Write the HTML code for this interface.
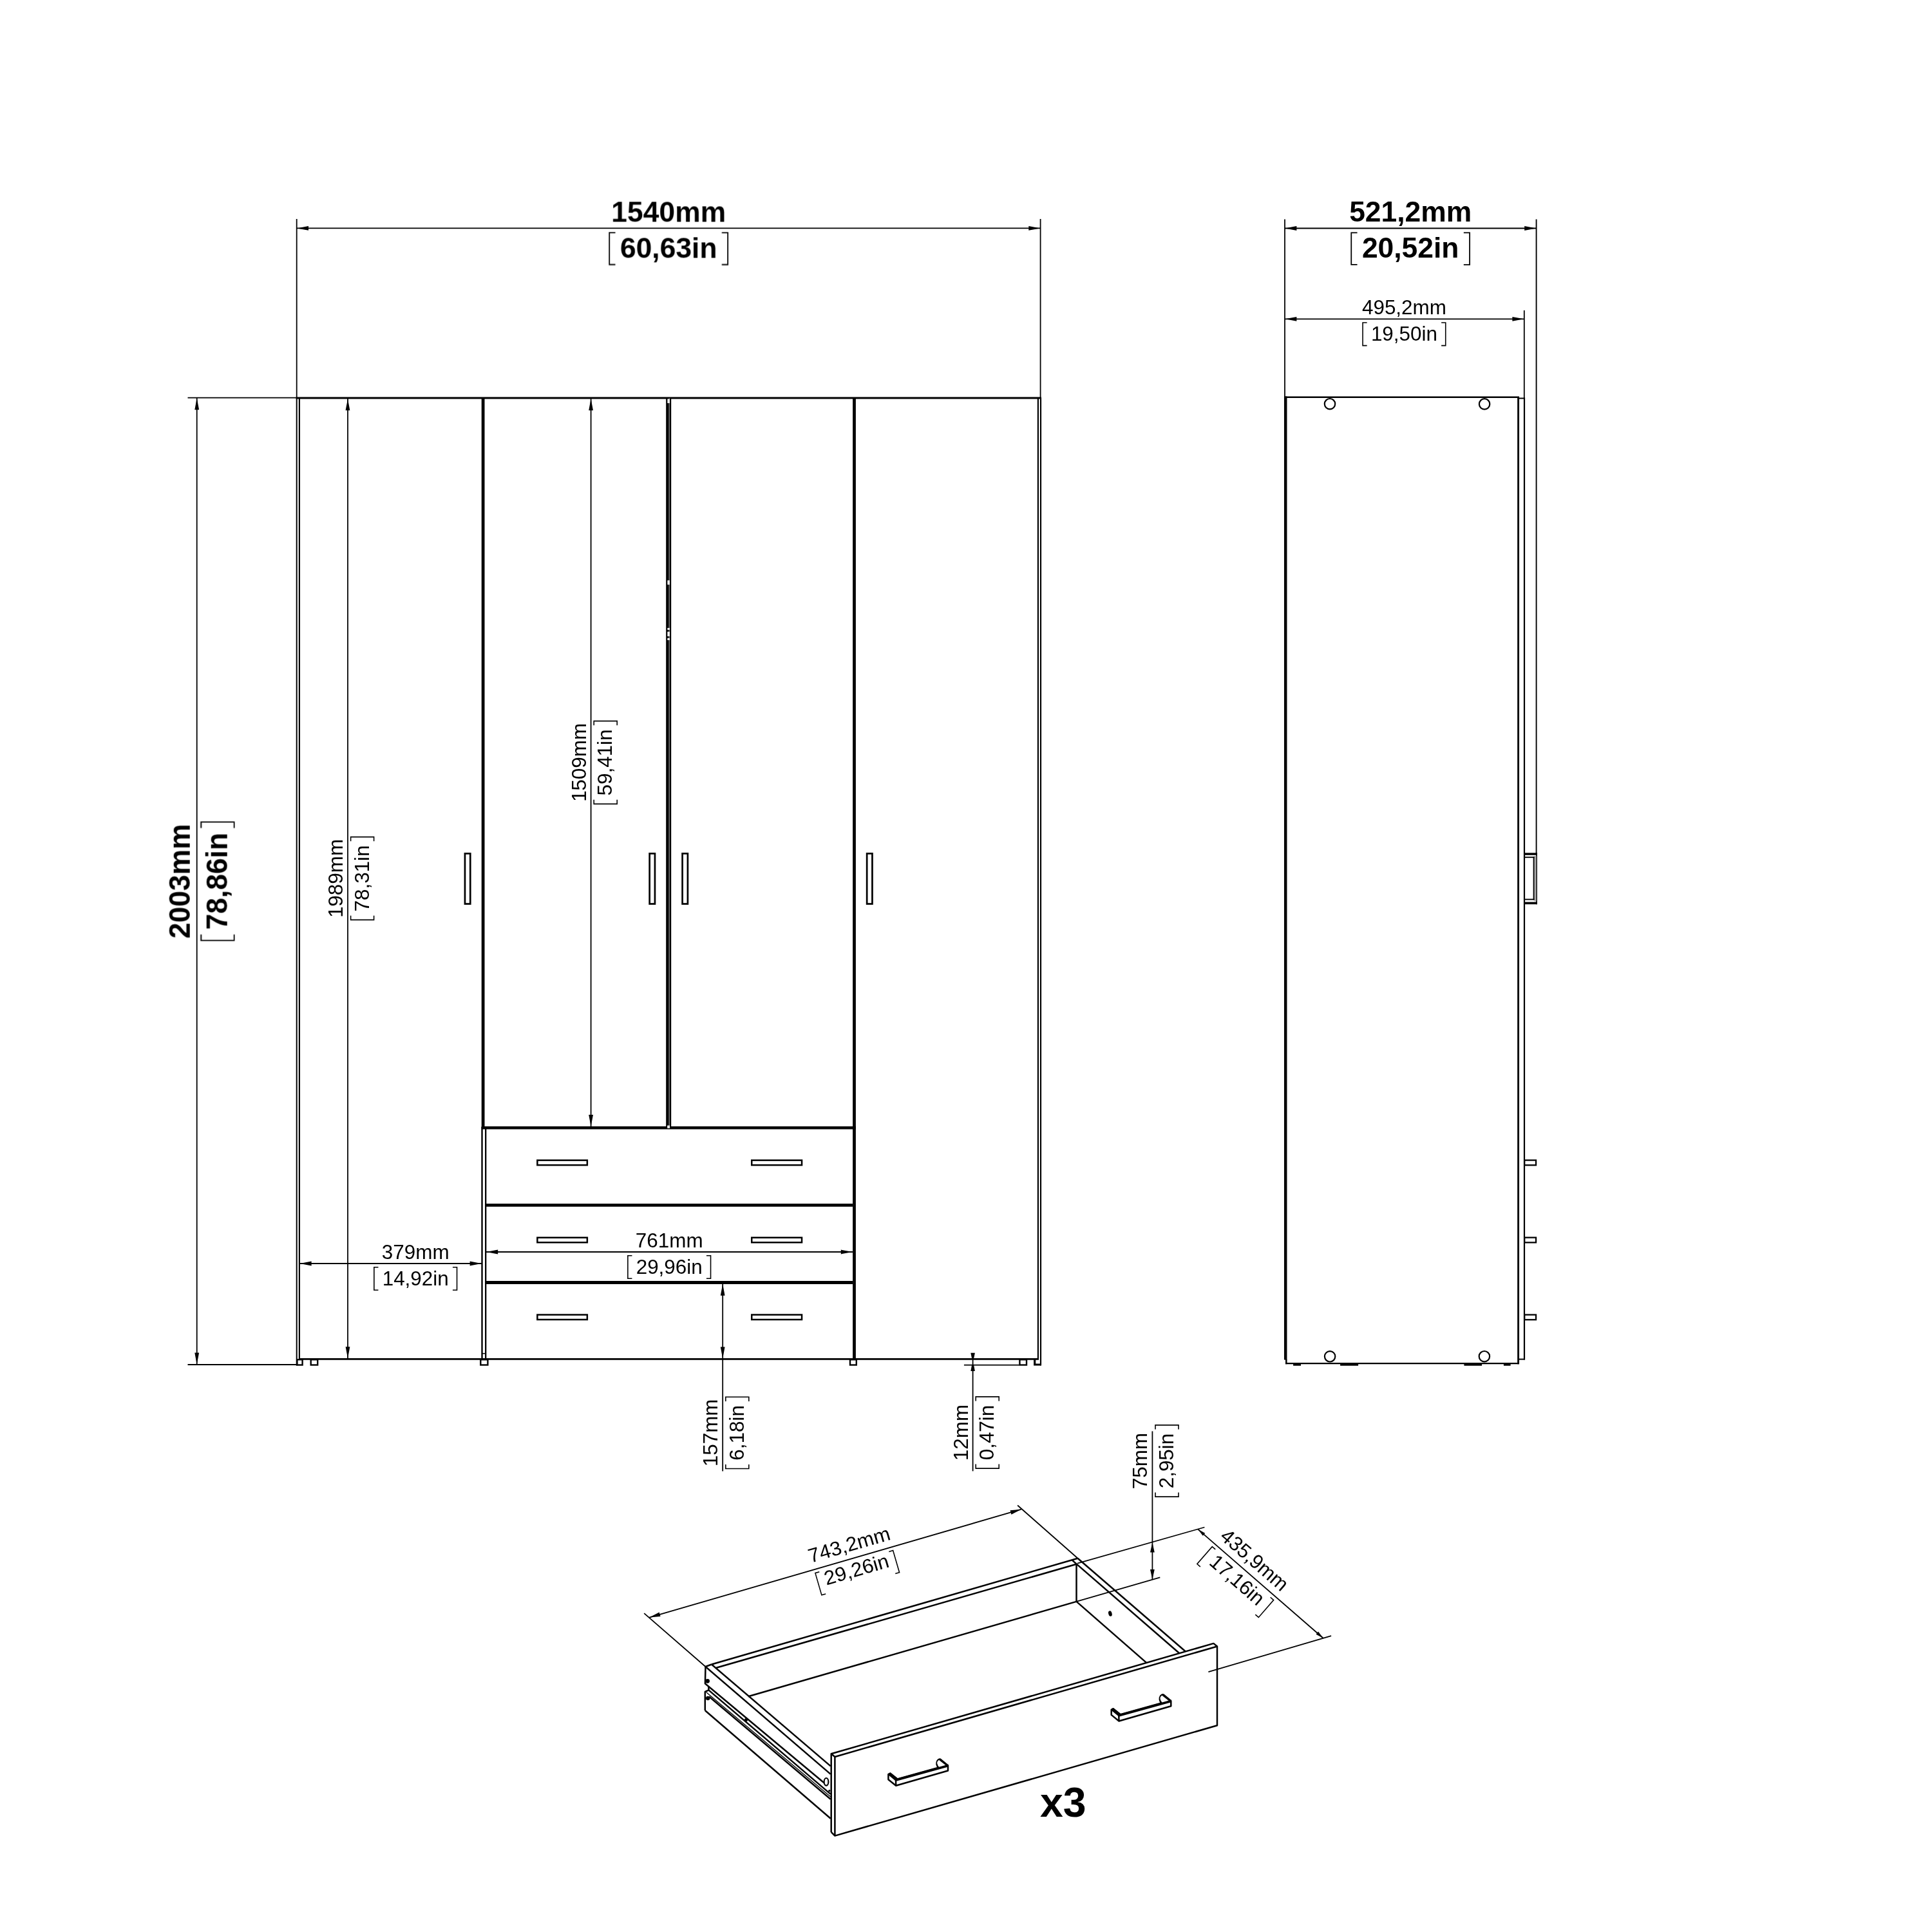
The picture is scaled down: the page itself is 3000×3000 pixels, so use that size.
<!DOCTYPE html>
<html><head><meta charset="utf-8"><title>Wardrobe dimensions</title>
<style>html,body{margin:0;padding:0;background:#fff}svg{display:block}text{font-family:"Liberation Sans",sans-serif;fill:#000}</style>
</head><body>
<svg width="3000" height="3000" viewBox="0 0 3000 3000">
<rect width="3000" height="3000" fill="#fff"/>
<g opacity="0.999">
<line x1="460.7" y1="340" x2="460.7" y2="618" stroke="#000" stroke-width="1.8" stroke-linecap="butt"/>
<line x1="1615.6" y1="340" x2="1615.6" y2="618" stroke="#000" stroke-width="1.8" stroke-linecap="butt"/>
<line x1="460.7" y1="354.4" x2="1615.6" y2="354.4" stroke="#000" stroke-width="1.9" stroke-linecap="butt"/>
<polygon points="461,354.4 479,351 479,357.8" fill="#000"/>
<polygon points="1615.3,354.4 1597.3,357.8 1597.3,351" fill="#000"/>
<g transform="translate(1038.2,354.4) rotate(0.02)">
<text transform="translate(0,-10.3) scale(1.019,1)" font-size="43.6" font-weight="bold" text-anchor="middle">1540mm</text>
<text transform="translate(0,45.5) scale(1.019,1)" font-size="43.6" font-weight="bold" text-anchor="middle">60,63in</text>
<path d="M-82.63,6.9 L-91.93,6.9 L-91.93,56.5 L-82.63,56.5" fill="none" stroke="#000" stroke-width="1.8"/>
<path d="M82.63,6.9 L91.93,6.9 L91.93,56.5 L82.63,56.5" fill="none" stroke="#000" stroke-width="1.8"/>
</g>
<line x1="291.5" y1="617.7" x2="461" y2="617.7" stroke="#000" stroke-width="1.8" stroke-linecap="butt"/>
<line x1="291.5" y1="2119" x2="461" y2="2119" stroke="#000" stroke-width="1.8" stroke-linecap="butt"/>
<line x1="305.7" y1="618" x2="305.7" y2="2119" stroke="#000" stroke-width="1.8" stroke-linecap="butt"/>
<polygon points="305.7,618.3 309.1,636.3 302.3,636.3" fill="#000"/>
<polygon points="305.7,2118.6 302.3,2100.6 309.1,2100.6" fill="#000"/>
<g transform="translate(305.7,1368.4) rotate(-90)">
<text transform="translate(0,-10.6) scale(0.981,1)" font-size="45.3" font-weight="bold" text-anchor="middle">2003mm</text>
<text transform="translate(0,46.6) scale(0.981,1)" font-size="45.3" font-weight="bold" text-anchor="middle">78,86in</text>
<path d="M-82.65,6.5 L-91.95,6.5 L-91.95,57.8 L-82.65,57.8" fill="none" stroke="#000" stroke-width="1.8"/>
<path d="M82.65,6.5 L91.95,6.5 L91.95,57.8 L82.65,57.8" fill="none" stroke="#000" stroke-width="1.8"/>
</g>
<line x1="459.7" y1="618" x2="1617" y2="618" stroke="#000" stroke-width="2.9" stroke-linecap="butt"/>
<line x1="460.7" y1="617" x2="460.7" y2="2120.5" stroke="#000" stroke-width="2" stroke-linecap="butt"/>
<line x1="464.9" y1="618" x2="464.9" y2="2110.5" stroke="#000" stroke-width="2.2" stroke-linecap="butt"/>
<line x1="1611.9" y1="618" x2="1611.9" y2="2110.5" stroke="#000" stroke-width="2.2" stroke-linecap="butt"/>
<line x1="1616" y1="618" x2="1616" y2="2120.6" stroke="#000" stroke-width="2.2" stroke-linecap="butt"/>
<line x1="464" y1="2110.4" x2="1613" y2="2110.4" stroke="#000" stroke-width="2.6" stroke-linecap="butt"/>
<line x1="750.1" y1="618" x2="750.1" y2="1751" stroke="#000" stroke-width="4.8" stroke-linecap="butt"/>
<line x1="748.5" y1="1750" x2="748.5" y2="2110" stroke="#000" stroke-width="2.4" stroke-linecap="butt"/>
<line x1="754.2" y1="1750" x2="754.2" y2="2110" stroke="#000" stroke-width="2.3" stroke-linecap="butt"/>
<line x1="749" y1="2101.7" x2="754" y2="2101.7" stroke="#000" stroke-width="1.5" stroke-linecap="butt"/>
<rect x="1034.2" y="618" width="4.6" height="1133" fill="#000"/>
<rect x="1038.8" y="618" width="1" height="1133" fill="#777"/>
<rect x="1039.8" y="618" width="2.4" height="1133" fill="#000"/>
<rect x="1036.4" y="619.5" width="3.5" height="6.5" fill="#fff"/>
<rect x="1036.4" y="901.2" width="3.5" height="6.6" fill="#fff"/>
<rect x="1036.4" y="975.1" width="3.5" height="2.9" fill="#fff"/>
<rect x="1036.4" y="980.9" width="3.5" height="7.1" fill="#fff"/>
<rect x="1036.4" y="990.8" width="3.5" height="3.2" fill="#fff"/>
<rect x="1036.4" y="1747.8" width="3.5" height="4.1" fill="#fff"/>
<line x1="1326.5" y1="618" x2="1326.5" y2="2110.5" stroke="#000" stroke-width="4.8" stroke-linecap="butt"/>
<line x1="747.7" y1="1751.2" x2="1328.9" y2="1751.2" stroke="#000" stroke-width="4.5" stroke-linecap="butt"/>
<line x1="753.2" y1="1871.4" x2="1324.2" y2="1871.4" stroke="#000" stroke-width="4.8" stroke-linecap="butt"/>
<line x1="753.2" y1="1991.5" x2="1324.2" y2="1991.5" stroke="#000" stroke-width="4.8" stroke-linecap="butt"/>
<rect x="1036.2" y="1747.8" width="3.8" height="4.1" fill="#fff"/>
<rect x="721.95" y="1325.35" width="8.3" height="78.2" fill="none" stroke="#000" stroke-width="2.7"/>
<rect x="1008.65" y="1325.35" width="8.3" height="78.2" fill="none" stroke="#000" stroke-width="2.7"/>
<rect x="1059.6" y="1325.35" width="8.3" height="78.2" fill="none" stroke="#000" stroke-width="2.7"/>
<rect x="1346.15" y="1325.35" width="8.3" height="78.2" fill="none" stroke="#000" stroke-width="2.7"/>
<rect x="834.35" y="1801.65" width="77.5" height="7.5" fill="none" stroke="#000" stroke-width="2.5"/>
<rect x="1167.25" y="1801.65" width="77.8" height="7.5" fill="none" stroke="#000" stroke-width="2.5"/>
<rect x="834.35" y="1921.75" width="77.5" height="7.5" fill="none" stroke="#000" stroke-width="2.5"/>
<rect x="1167.25" y="1921.75" width="77.8" height="7.5" fill="none" stroke="#000" stroke-width="2.5"/>
<rect x="834.35" y="2041.55" width="77.5" height="7.5" fill="none" stroke="#000" stroke-width="2.5"/>
<rect x="1167.25" y="2041.55" width="77.8" height="7.5" fill="none" stroke="#000" stroke-width="2.5"/>
<rect x="461.4" y="2111.2" width="8.2" height="8.3" fill="none" stroke="#000" stroke-width="2.4"/>
<rect x="482.7" y="2111.2" width="10.5" height="8.3" fill="none" stroke="#000" stroke-width="2.4"/>
<rect x="746.3" y="2111.2" width="11.1" height="8.3" fill="none" stroke="#000" stroke-width="2.4"/>
<rect x="1320" y="2111.2" width="9.8" height="8.3" fill="none" stroke="#000" stroke-width="2.4"/>
<rect x="1583.4" y="2111.2" width="10.6" height="8.3" fill="none" stroke="#000" stroke-width="2.4"/>
<path d="M1606.7,2110 L1606.7,2119 L1616,2119" fill="none" stroke="#000" stroke-width="3.2" stroke-linejoin="miter"/>
<line x1="540" y1="619" x2="540" y2="2110" stroke="#000" stroke-width="1.8" stroke-linecap="butt"/>
<polygon points="540,619.3 543.4,637.3 536.6,637.3" fill="#000"/>
<polygon points="540,2109.2 536.6,2091.2 543.4,2091.2" fill="#000"/>
<g transform="translate(540,1364) rotate(-90)">
<text transform="translate(0,-8) scale(0.985,1)" font-size="31.9" font-weight="normal" text-anchor="middle">1989mm</text>
<text transform="translate(0,32.8) scale(0.985,1)" font-size="31.9" font-weight="normal" text-anchor="middle">78,31in</text>
<path d="M-57.74,4.6 L-64.34,4.6 L-64.34,40.6 L-57.74,40.6" fill="none" stroke="#000" stroke-width="1.6"/>
<path d="M57.74,4.6 L64.34,4.6 L64.34,40.6 L57.74,40.6" fill="none" stroke="#000" stroke-width="1.6"/>
</g>
<line x1="917.6" y1="619" x2="917.6" y2="1749" stroke="#000" stroke-width="1.8" stroke-linecap="butt"/>
<polygon points="917.6,619.3 921,637.3 914.2,637.3" fill="#000"/>
<polygon points="917.6,1748.9 914.2,1730.9 921,1730.9" fill="#000"/>
<g transform="translate(917.6,1184) rotate(-90)">
<text transform="translate(0,-8) scale(0.985,1)" font-size="31.9" font-weight="normal" text-anchor="middle">1509mm</text>
<text transform="translate(0,32.8) scale(0.985,1)" font-size="31.9" font-weight="normal" text-anchor="middle">59,41in</text>
<path d="M-57.74,4.6 L-64.34,4.6 L-64.34,40.6 L-57.74,40.6" fill="none" stroke="#000" stroke-width="1.6"/>
<path d="M57.74,4.6 L64.34,4.6 L64.34,40.6 L57.74,40.6" fill="none" stroke="#000" stroke-width="1.6"/>
</g>
<line x1="465" y1="1962" x2="748" y2="1962" stroke="#000" stroke-width="1.8" stroke-linecap="butt"/>
<polygon points="465.6,1962 483.6,1958.6 483.6,1965.4" fill="#000"/>
<polygon points="747.6,1962 729.6,1965.4 729.6,1958.6" fill="#000"/>
<g transform="translate(645.2,1962) rotate(0.02)">
<text transform="translate(0,-7.2) scale(1.0235,1)" font-size="30.7" font-weight="normal" text-anchor="middle">379mm</text>
<text transform="translate(0,33.8) scale(1.0235,1)" font-size="30.7" font-weight="normal" text-anchor="middle">14,92in</text>
<path d="M-57.74,5.7 L-64.34,5.7 L-64.34,41.3 L-57.74,41.3" fill="none" stroke="#000" stroke-width="1.6"/>
<path d="M57.74,5.7 L64.34,5.7 L64.34,41.3 L57.74,41.3" fill="none" stroke="#000" stroke-width="1.6"/>
</g>
<line x1="755" y1="1944" x2="1324" y2="1944" stroke="#000" stroke-width="1.8" stroke-linecap="butt"/>
<polygon points="755.2,1944 773.2,1940.6 773.2,1947.4" fill="#000"/>
<polygon points="1323.8,1944 1305.8,1947.4 1305.8,1940.6" fill="#000"/>
<g transform="translate(1039.2,1944) rotate(0.02)">
<text transform="translate(0,-7.2) scale(1.0235,1)" font-size="30.7" font-weight="normal" text-anchor="middle">761mm</text>
<text transform="translate(0,33.8) scale(1.0235,1)" font-size="30.7" font-weight="normal" text-anchor="middle">29,96in</text>
<path d="M-57.74,5.7 L-64.34,5.7 L-64.34,41.3 L-57.74,41.3" fill="none" stroke="#000" stroke-width="1.6"/>
<path d="M57.74,5.7 L64.34,5.7 L64.34,41.3 L57.74,41.3" fill="none" stroke="#000" stroke-width="1.6"/>
</g>
<line x1="1122.2" y1="1994" x2="1122.2" y2="2284.4" stroke="#000" stroke-width="1.8" stroke-linecap="butt"/>
<polygon points="1122.2,1993.8 1125.6,2011.8 1118.8,2011.8" fill="#000"/>
<polygon points="1122.2,2109.6 1118.8,2091.6 1125.6,2091.6" fill="#000"/>
<g transform="translate(1122.2,2224.9) rotate(-90)">
<text transform="translate(0,-8) scale(0.985,1)" font-size="31.9" font-weight="normal" text-anchor="middle">157mm</text>
<text transform="translate(0,32.8) scale(0.985,1)" font-size="31.9" font-weight="normal" text-anchor="middle">6,18in</text>
<path d="M-49.01,4.6 L-55.61,4.6 L-55.61,40.6 L-49.01,40.6" fill="none" stroke="#000" stroke-width="1.6"/>
<path d="M49.01,4.6 L55.61,4.6 L55.61,40.6 L49.01,40.6" fill="none" stroke="#000" stroke-width="1.6"/>
</g>
<line x1="1510.6" y1="2101" x2="1510.6" y2="2284.4" stroke="#000" stroke-width="1.8" stroke-linecap="butt"/>
<line x1="1496.9" y1="2119.6" x2="1582.6" y2="2119.6" stroke="#000" stroke-width="1.8" stroke-linecap="butt"/>
<polygon points="1507.3,2100.7 1513.9,2100.7 1512.1,2109.5 1509.1,2109.5" fill="#000"/>
<polygon points="1507.3,2128.9 1513.9,2128.9 1512.1,2119.5 1509.1,2119.5" fill="#000"/>
<g transform="translate(1510.6,2224.5) rotate(-90)">
<text transform="translate(0,-8) scale(0.985,1)" font-size="31.9" font-weight="normal" text-anchor="middle">12mm</text>
<text transform="translate(0,32.8) scale(0.985,1)" font-size="31.9" font-weight="normal" text-anchor="middle">0,47in</text>
<path d="M-49.01,4.6 L-55.61,4.6 L-55.61,40.6 L-49.01,40.6" fill="none" stroke="#000" stroke-width="1.6"/>
<path d="M49.01,4.6 L55.61,4.6 L55.61,40.6 L49.01,40.6" fill="none" stroke="#000" stroke-width="1.6"/>
</g>
<line x1="1995" y1="340.5" x2="1995" y2="617" stroke="#000" stroke-width="1.8" stroke-linecap="butt"/>
<line x1="2385.6" y1="340.5" x2="2385.6" y2="1325" stroke="#000" stroke-width="1.9" stroke-linecap="butt"/>
<line x1="1995" y1="354.5" x2="2385.6" y2="354.5" stroke="#000" stroke-width="1.8" stroke-linecap="butt"/>
<polygon points="1995.4,354.5 2013.4,351.1 2013.4,357.9" fill="#000"/>
<polygon points="2385.2,354.5 2367.2,357.9 2367.2,351.1" fill="#000"/>
<g transform="translate(2190.2,354.5) rotate(0.02)">
<text transform="translate(0,-10.3) scale(1.019,1)" font-size="43.6" font-weight="bold" text-anchor="middle">521,2mm</text>
<text transform="translate(0,45.5) scale(1.019,1)" font-size="43.6" font-weight="bold" text-anchor="middle">20,52in</text>
<path d="M-82.63,6.9 L-91.93,6.9 L-91.93,56.5 L-82.63,56.5" fill="none" stroke="#000" stroke-width="1.8"/>
<path d="M82.63,6.9 L91.93,6.9 L91.93,56.5 L82.63,56.5" fill="none" stroke="#000" stroke-width="1.8"/>
</g>
<line x1="2366.8" y1="481.9" x2="2366.8" y2="618" stroke="#000" stroke-width="1.8" stroke-linecap="butt"/>
<line x1="1995" y1="495.3" x2="2366.8" y2="495.3" stroke="#000" stroke-width="1.8" stroke-linecap="butt"/>
<polygon points="1995.4,495.3 2013.4,491.9 2013.4,498.7" fill="#000"/>
<polygon points="2366.4,495.3 2348.4,498.7 2348.4,491.9" fill="#000"/>
<g transform="translate(2180.4,495.3) rotate(0.02)">
<text transform="translate(0,-7.2) scale(1.0235,1)" font-size="30.7" font-weight="normal" text-anchor="middle">495,2mm</text>
<text transform="translate(0,33.8) scale(1.0235,1)" font-size="30.7" font-weight="normal" text-anchor="middle">19,50in</text>
<path d="M-57.74,5.7 L-64.34,5.7 L-64.34,41.3 L-57.74,41.3" fill="none" stroke="#000" stroke-width="1.6"/>
<path d="M57.74,5.7 L64.34,5.7 L64.34,41.3 L57.74,41.3" fill="none" stroke="#000" stroke-width="1.6"/>
</g>
<line x1="1994" y1="616.7" x2="2359" y2="616.7" stroke="#000" stroke-width="2.4" stroke-linecap="butt"/>
<line x1="1996.2" y1="615.6" x2="1996.2" y2="2111.5" stroke="#000" stroke-width="4.5" stroke-linecap="butt"/>
<line x1="1997.3" y1="2111" x2="1997.3" y2="2118.2" stroke="#000" stroke-width="2.5" stroke-linecap="butt"/>
<line x1="1996" y1="2117.1" x2="2358.8" y2="2117.1" stroke="#000" stroke-width="2.4" stroke-linecap="butt"/>
<line x1="2357.6" y1="616" x2="2357.6" y2="2118.2" stroke="#000" stroke-width="2.9" stroke-linecap="butt"/>
<line x1="2357.6" y1="618.5" x2="2368" y2="618.5" stroke="#000" stroke-width="2" stroke-linecap="butt"/>
<line x1="2367" y1="617.5" x2="2367" y2="2111.5" stroke="#000" stroke-width="2.2" stroke-linecap="butt"/>
<line x1="2357.6" y1="2110.6" x2="2368" y2="2110.6" stroke="#000" stroke-width="2" stroke-linecap="butt"/>
<circle cx="2065" cy="627.2" r="8.2" fill="none" stroke="#000" stroke-width="2.2"/>
<circle cx="2305.1" cy="627.4" r="8.2" fill="none" stroke="#000" stroke-width="2.2"/>
<circle cx="2065.1" cy="2106.3" r="8.2" fill="none" stroke="#000" stroke-width="2.2"/>
<circle cx="2304.9" cy="2106.2" r="8.2" fill="none" stroke="#000" stroke-width="2.2"/>
<rect x="2008.1" y="2117" width="11.9" height="3.7" fill="#000"/>
<rect x="2081.1" y="2117" width="28" height="3.7" fill="#000"/>
<rect x="2273.4" y="2117" width="27.7" height="3.7" fill="#000"/>
<rect x="2334.9" y="2117" width="10.7" height="3.7" fill="#000"/>
<rect x="2367" y="1324.3" width="19.8" height="3.5" fill="#000"/>
<rect x="2367" y="1400.6" width="19.8" height="3.6" fill="#000"/>
<line x1="2386" y1="1324.3" x2="2386" y2="1404.2" stroke="#000" stroke-width="1.8" stroke-linecap="butt"/>
<rect x="2382.4" y="1329" width="3" height="70.5" fill="#aaa"/>
<line x1="2367" y1="1331.2" x2="2382.5" y2="1331.2" stroke="#000" stroke-width="1.9" stroke-linecap="butt"/>
<line x1="2367" y1="1396.6" x2="2382.5" y2="1396.6" stroke="#000" stroke-width="1.9" stroke-linecap="butt"/>
<line x1="2381.6" y1="1330.3" x2="2381.6" y2="1397.5" stroke="#000" stroke-width="1.9" stroke-linecap="butt"/>
<rect x="2367.15" y="1801.55" width="17.9" height="7.7" fill="none" stroke="#000" stroke-width="2.3"/>
<rect x="2367.15" y="1921.65" width="17.9" height="7.7" fill="none" stroke="#000" stroke-width="2.3"/>
<rect x="2367.15" y="2041.55" width="17.9" height="7.7" fill="none" stroke="#000" stroke-width="2.3"/>
<path d="M1290.7,2844.9 L1290.7,2723.3 L1884.4,2551.9 L1890,2556.5 L1890,2679.3 L1296.4,2850.6 L1290.7,2844.9" fill="none" stroke="#000" stroke-width="2.5" stroke-linejoin="round"/>
<path d="M1290.7,2723.3 L1296.4,2728 L1890,2556.5" fill="none" stroke="#000" stroke-width="2.5" stroke-linejoin="round"/>
<path d="M1296.4,2728 L1296.4,2850.6" fill="none" stroke="#000" stroke-width="2.5" stroke-linejoin="miter"/>
<line x1="1104.8" y1="2584.5" x2="1673.5" y2="2419.8" stroke="#000" stroke-width="2.5" stroke-linecap="butt"/>
<line x1="1112.2" y1="2589.8" x2="1671.6" y2="2428.8" stroke="#000" stroke-width="2.5" stroke-linecap="butt"/>
<line x1="1161.9" y1="2634.2" x2="1671.5" y2="2486.9" stroke="#000" stroke-width="2.5" stroke-linecap="butt"/>
<line x1="1671.5" y1="2428.8" x2="1671.5" y2="2486.9" stroke="#000" stroke-width="2.5" stroke-linecap="butt"/>
<path d="M1104.8,2584.5 L1095.5,2588 L1289.7,2754.9" fill="none" stroke="#000" stroke-width="2.5" stroke-linejoin="round"/>
<line x1="1105.3" y1="2584.8" x2="1289.7" y2="2742.4" stroke="#000" stroke-width="2.5" stroke-linecap="butt"/>
<path d="M1095.5,2588 L1094.9,2614.3 L1284.5,2772.5" fill="none" stroke="#000" stroke-width="2.5" stroke-linejoin="round"/>
<ellipse cx="1283" cy="2766.8" rx="3.4" ry="5.8" fill="#fff" stroke="#000" stroke-width="2.2"/>
<line x1="1100.4" y1="2618.4" x2="1100.4" y2="2624.6" stroke="#000" stroke-width="2.5" stroke-linecap="butt"/>
<path d="M1094.8,2656 L1094.8,2627 L1100.4,2624.4 L1289.7,2785.9" fill="none" stroke="#000" stroke-width="2.5" stroke-linejoin="round"/>
<line x1="1096.7" y1="2627.7" x2="1289.7" y2="2790" stroke="#000" stroke-width="1.4" stroke-linecap="butt"/>
<line x1="1101.1" y1="2634.5" x2="1289.7" y2="2793.7" stroke="#000" stroke-width="2.5" stroke-linecap="butt"/>
<line x1="1094.8" y1="2656" x2="1289.7" y2="2823.7" stroke="#000" stroke-width="2.5" stroke-linecap="butt"/>
<circle cx="1098.6" cy="2610.3" r="2.4" fill="#000" stroke="#000" stroke-width="2"/>
<circle cx="1099.2" cy="2637" r="2.2" fill="#000" stroke="#000" stroke-width="2"/>
<circle cx="1158.5" cy="2670.5" r="1.8" fill="#000" stroke="#000" stroke-width="1.5"/>
<circle cx="1287.8" cy="2780.7" r="1.2" fill="#000" stroke="#000" stroke-width="1"/>
<line x1="1673.5" y1="2419.8" x2="1840.7" y2="2564.2" stroke="#000" stroke-width="2.5" stroke-linecap="butt"/>
<line x1="1664.8" y1="2422.6" x2="1830.8" y2="2566.7" stroke="#000" stroke-width="2.5" stroke-linecap="butt"/>
<line x1="1671.5" y1="2486.9" x2="1779.9" y2="2581.6" stroke="#000" stroke-width="2.5" stroke-linecap="butt"/>
<ellipse cx="1723.9" cy="2505.6" rx="2.7" ry="4.3" transform="rotate(-15 1723.9 2505.6)" fill="#000"/>
<g transform="translate(0,0)">
<path d="M1725.7,2654.8 L1728.6,2653.2 L1739.9,2662.2 L1803.5,2644.4 C1800.8,2641.8 1799.6,2637 1802,2633.6 C1803.8,2631.4 1805.8,2631 1807,2631.8 L1818.3,2641.2 L1818.3,2649.2 L1737.5,2672.5 L1725.7,2662.9 Z" fill="#fff" stroke="#000" stroke-width="2.5" stroke-linejoin="round"/>
<polygon points="1725.7,2654.8 1728.6,2653.2 1739.9,2662.2 1737.8,2664.7999999999997" fill="#000" stroke="#000" stroke-width="1.6" stroke-linejoin="round"/>
<polygon points="1739.9,2661.3 1818.8,2639.5 1818.8,2643.2 1738.2,2665.4" fill="#000"/>
<path d="M1802.6,2640.2 C1800.8,2637.6 1801.2,2634.8 1803.6,2633.2 C1805,2632.4 1806.2,2632.8 1807.2,2633.8 L1814.4,2639.6 L1806.6,2641.7 Z" fill="#fff"/>
<polygon points="1806.3,2630.4 1819.2,2640.6 1817.4,2643 1804.4,2632.8" fill="#000"/>
<line x1="1737.3" y1="2663.6" x2="1737.5" y2="2672.5" stroke="#000" stroke-width="2.5" stroke-linecap="butt"/>
</g>
<g transform="translate(-346.3,100.3)">
<path d="M1725.7,2654.8 L1728.6,2653.2 L1739.9,2662.2 L1803.5,2644.4 C1800.8,2641.8 1799.6,2637 1802,2633.6 C1803.8,2631.4 1805.8,2631 1807,2631.8 L1818.3,2641.2 L1818.3,2649.2 L1737.5,2672.5 L1725.7,2662.9 Z" fill="#fff" stroke="#000" stroke-width="2.5" stroke-linejoin="round"/>
<polygon points="1725.7,2654.8 1728.6,2653.2 1739.9,2662.2 1737.8,2664.7999999999997" fill="#000" stroke="#000" stroke-width="1.6" stroke-linejoin="round"/>
<polygon points="1739.9,2661.3 1818.8,2639.5 1818.8,2643.2 1738.2,2665.4" fill="#000"/>
<path d="M1802.6,2640.2 C1800.8,2637.6 1801.2,2634.8 1803.6,2633.2 C1805,2632.4 1806.2,2632.8 1807.2,2633.8 L1814.4,2639.6 L1806.6,2641.7 Z" fill="#fff"/>
<polygon points="1806.3,2630.4 1819.2,2640.6 1817.4,2643 1804.4,2632.8" fill="#000"/>
<line x1="1737.3" y1="2663.6" x2="1737.5" y2="2672.5" stroke="#000" stroke-width="2.5" stroke-linecap="butt"/>
</g>
<line x1="1008.3" y1="2511.6" x2="1585.8" y2="2343.7" stroke="#000" stroke-width="1.8" stroke-linecap="butt"/>
<polygon points="1008.3,2511.6 1023.67,2503.59 1025.57,2510.12" fill="#000"/>
<polygon points="1585.8,2343.7 1570.43,2351.71 1568.53,2345.18" fill="#000"/>
<line x1="1000.2" y1="2505.1" x2="1095.5" y2="2588" stroke="#000" stroke-width="1.8" stroke-linecap="butt"/>
<line x1="1580.1" y1="2337.5" x2="1673.5" y2="2419.8" stroke="#000" stroke-width="1.8" stroke-linecap="butt"/>
<g transform="translate(1324.7,2419.65) rotate(-16.21)">
<text transform="translate(0,-11.5) scale(1.017,1)" font-size="30.9" font-weight="normal" text-anchor="middle">743,2mm</text>
<text transform="translate(0,28.8) scale(1.017,1)" font-size="30.9" font-weight="normal" text-anchor="middle">29,26in</text>
<path d="M-56.25,5.7 L-62.85,5.7 L-62.85,41.3 L-56.25,41.3" fill="none" stroke="#000" stroke-width="1.6"/>
<path d="M56.25,5.7 L62.85,5.7 L62.85,41.3 L56.25,41.3" fill="none" stroke="#000" stroke-width="1.6"/>
</g>
<line x1="1672.9" y1="2427.6" x2="1870.4" y2="2371.5" stroke="#000" stroke-width="1.8" stroke-linecap="butt"/>
<line x1="1671.5" y1="2486.9" x2="1801.3" y2="2449.4" stroke="#000" stroke-width="1.8" stroke-linecap="butt"/>
<line x1="1789.4" y1="2222.4" x2="1789.4" y2="2452.3" stroke="#000" stroke-width="1.8" stroke-linecap="butt"/>
<polygon points="1789.4,2395 1792.8,2410.5 1786,2410.5" fill="#000"/>
<polygon points="1789.4,2452.5 1786,2437 1792.8,2437" fill="#000"/>
<g transform="translate(1789.4,2268.5) rotate(-90)">
<text transform="translate(0,-8) scale(0.985,1)" font-size="31.9" font-weight="normal" text-anchor="middle">75mm</text>
<text transform="translate(0,32.8) scale(0.985,1)" font-size="31.9" font-weight="normal" text-anchor="middle">2,95in</text>
<path d="M-49.01,4.6 L-55.61,4.6 L-55.61,40.6 L-49.01,40.6" fill="none" stroke="#000" stroke-width="1.6"/>
<path d="M49.01,4.6 L55.61,4.6 L55.61,40.6 L49.01,40.6" fill="none" stroke="#000" stroke-width="1.6"/>
</g>
<line x1="1860.1" y1="2374.6" x2="2054.7" y2="2543.8" stroke="#000" stroke-width="1.8" stroke-linecap="butt"/>
<polygon points="1860.1,2374.6 1871.3,2380.76 1867.76,2384.84" fill="#000"/>
<polygon points="2054.7,2543.8 2043.5,2537.64 2047.04,2533.56" fill="#000"/>
<line x1="1876.4" y1="2596.1" x2="2067.1" y2="2540.2" stroke="#000" stroke-width="1.8" stroke-linecap="butt"/>
<g transform="translate(1933.7,2438.8) rotate(41.01)">
<text transform="translate(0,-11.2) scale(0.982,1)" font-size="31.3" font-weight="normal" text-anchor="middle">435,9mm</text>
<text transform="translate(0,29.8) scale(0.982,1)" font-size="31.3" font-weight="normal" text-anchor="middle">17,16in</text>
<path d="M-56.62,5.7 L-63.22,5.7 L-63.22,41.3 L-56.62,41.3" fill="none" stroke="#000" stroke-width="1.6"/>
<path d="M56.62,5.7 L63.22,5.7 L63.22,41.3 L56.62,41.3" fill="none" stroke="#000" stroke-width="1.6"/>
</g>
<text transform="translate(1650.8,2820.6) rotate(0.02) scale(0.99,1)" font-size="65" font-weight="bold" text-anchor="middle">x3</text>
</g>
</svg>
</body></html>
